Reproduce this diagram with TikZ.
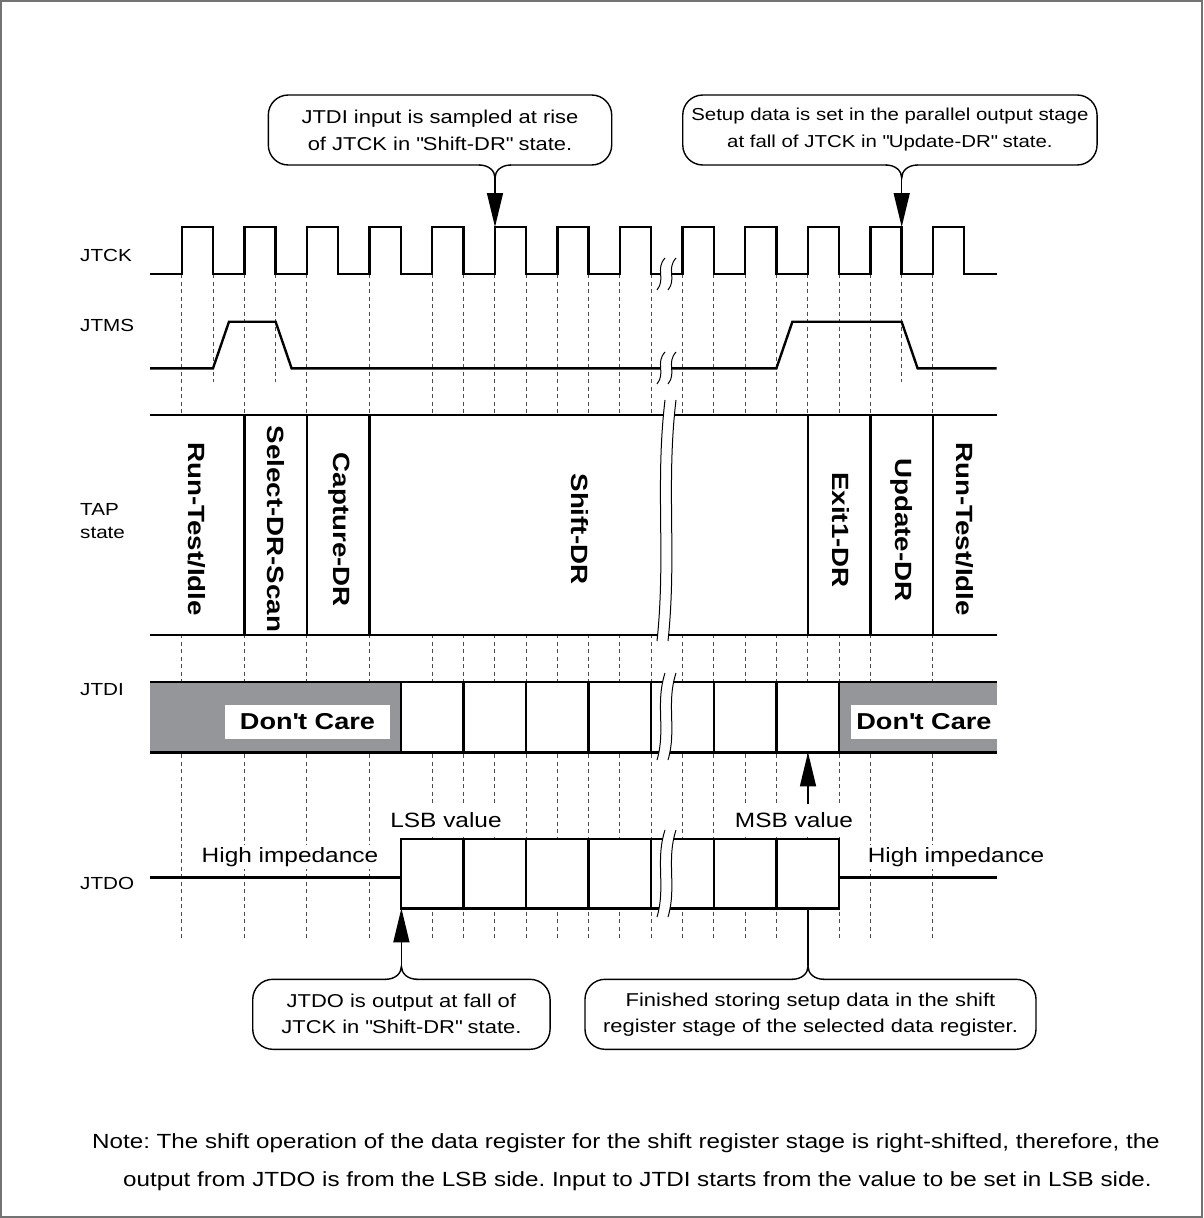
\documentclass[tikz,border=0pt]{standalone}
\usepackage{fontspec}
\setmainfont{Liberation Sans}[FakeStretch=1.18]
\usetikzlibrary{arrows.meta}
\definecolor{dcgray}{RGB}{148,150,153}
\frenchspacing
\newcommand{\edgex}[1]{181.7+31.3*(#1)}
\newcommand{\brkmark}[3]{%
\fill[white] ({#1+4},#2) .. controls ({#1-6},{#2+0.35*(#3-#2)}) and ({#1+5},{#2+0.65*(#3-#2)}) .. ({#1-4},#3)
 -- ({#1+7},#3) .. controls ({#1+16},{#2+0.65*(#3-#2)}) and ({#1+5},{#2+0.35*(#3-#2)}) .. ({#1+15},#2) -- cycle;
\draw[brk] ({#1+4},#2) .. controls ({#1-6},{#2+0.35*(#3-#2)}) and ({#1+5},{#2+0.65*(#3-#2)}) .. ({#1-4},#3);
\draw[brk] ({#1+15},#2) .. controls ({#1+5},{#2+0.35*(#3-#2)}) and ({#1+16},{#2+0.65*(#3-#2)}) .. ({#1+7},#3);}
\newcommand{\notch}[3]{%
\fill[white] ({#1-15},{#2-2}) rectangle ({#1+15},{#2+2});
\draw[line width=1.4pt] ({#1-16},#2) .. controls ({#1-6},#2) and (#1,{#2+6*#3}) .. (#1,{#2+13*#3})
 .. controls (#1,{#2+6*#3}) and ({#1+6},#2) .. ({#1+16},#2);}
\begin{document}
\begin{tikzpicture}[x=1pt,y=-1pt,
wave/.style={line width=2.4pt,line join=miter},
grid/.style={black!70,line width=0.9pt,dash pattern=on 4pt off 3.5pt},
cell/.style={line width=2.4pt},
brk/.style={line width=1pt},
balloon/.style={draw,rounded corners=20pt,line width=1.4pt,align=center,inner sep=0pt,
font=\fontsize{18.6}{27}\selectfont},
lbl/.style={fill=white,inner sep=2pt,font=\fontsize{20.7}{24}\selectfont},
sig/.style={anchor=west,align=left,inner sep=0pt,font=\fontsize{17.5}{23}\selectfont},
tapstate/.style={rotate=-90,inner sep=0pt,font=\fontsize{23.5}{26}\selectfont\bfseries},
dontcare/.style={fill=white,inner sep=0pt,minimum height=34pt,font=\fontsize{23}{26}\selectfont\bfseries},
pin/.style={line width=1.4pt,-{Triangle[length=34pt,width=16pt]}},
notetext/.style={anchor=base west,inner sep=0pt,font=\fontsize{20.5}{24}\selectfont}]
\useasboundingbox (0,0) rectangle (1203,1218);
\draw[black!55,line width=1.5pt] (1,1) rectangle (1202,1217);
\foreach \k in {0,2,...,24} \draw[grid] ({\edgex{\k}},274) -- ({\edgex{\k}},940);
\foreach \k in {9,11,...,21} \draw[grid] ({\edgex{\k}},274) -- ({\edgex{\k}},940);
\foreach \k in {1,3,23} \draw[grid] ({\edgex{\k}},274) -- ({\edgex{\k}},382);
\draw[wave] (150,274) \foreach \k in {0,2,...,24} { -- ({\edgex{\k}},274) -- ({\edgex{\k}},227)
 -- ({\edgex{\k+1}},227) -- ({\edgex{\k+1}},274) } -- (996.7,274);
\draw[wave] (150,368.3) -- ({\edgex{1}},368.3) -- ({\edgex{1}+16},321.7) -- ({\edgex{3}},321.7)
 -- ({\edgex{3}+16},368.3) -- ({\edgex{19}},368.3) -- ({\edgex{19}+16},321.7) -- ({\edgex{23}},321.7)
 -- ({\edgex{23}+16},368.3) -- (996.7,368.3);
\fill[white] (150,415) rectangle (996.7,635);
\draw[cell] (150,415) -- (996.7,415) (150,635) -- (996.7,635);
\foreach \k in {2,4,6,20,22,24} \draw[cell] ({\edgex{\k}},415) -- ({\edgex{\k}},635);
\node[tapstate] (run1) at (197,529) {Run-Test/Idle};
\node[tapstate] (select) at (276,529) {Select-DR-Scan};
\node[tapstate] (capture) at (339,530) {Capture-DR};
\node[tapstate] (shift) at (580,529) {Shift-DR};
\node[tapstate] (exit1) at (841,530) {Exit1-DR};
\node[tapstate] (update) at (902,530) {Update-DR};
\node[tapstate] (run2) at (965,529) {Run-Test/Idle};
\fill[dcgray] (150,682) rectangle ({\edgex{7}},752.3);
\fill[white] ({\edgex{7}},682) rectangle ({\edgex{21}},752.3);
\fill[dcgray] ({\edgex{21}},682) rectangle (996.7,752.3);
\draw[cell] (150,682) -- (996.7,682) (150,752.3) -- (996.7,752.3);
\foreach \k in {7,9,...,21} \draw[cell] ({\edgex{\k}},682) -- ({\edgex{\k}},752.3);
\node[dontcare,minimum width=165pt] (care1) at (307.5,722) {Don\textquotesingle t Care};
\node[dontcare,inner xsep=5pt,anchor=east] (care2) at (996.7,722) {Don\textquotesingle t Care};
\draw[cell] (150,877.3) -- ({\edgex{7}},877.3);
\fill[white] ({\edgex{7}},839) rectangle ({\edgex{21}},908.3);
\draw[cell] ({\edgex{7}},839) rectangle ({\edgex{21}},908.3);
\foreach \k in {9,11,...,19} \draw[cell] ({\edgex{\k}},839) -- ({\edgex{\k}},908.3);
\draw[cell] ({\edgex{21}},877.3) -- (996.7,877.3);
\node[lbl,minimum height=31pt] (lsb) at (446,820) {LSB value};
\node[lbl,minimum height=31pt] (msb) at (794,820) {MSB value};
\node[lbl] (hiz1) at (290,857) {High impedance};
\node[lbl] (hiz2) at (956,857) {High impedance};
\brkmark{661}{258}{290}
\brkmark{661}{352}{384}
\brkmark{661}{400}{641}
\brkmark{661}{673}{760}
\brkmark{661}{830}{917}
\node[sig] (tck) at (80,255) {JTCK};
\node[sig] (tms) at (80,325) {JTMS};
\node[sig] (tap) at (80,521) {TAP\\state};
\node[sig] (tdi) at (80,690) {JTDI};
\node[sig] (tdo) at (80,883) {JTDO};
\node[balloon,minimum width=343.4pt,minimum height=70pt] (sample) at (440,130)
{JTDI input is sampled at rise\\of JTCK in \textquotedbl Shift-DR\textquotedbl{} state.};
\node[balloon,minimum width=414.3pt,minimum height=70pt,font=\fontsize{17.3}{27}\selectfont] (setup) at (889.9,130)
{Setup data is set in the parallel output stage\\at fall of JTCK in \textquotedbl Update-DR\textquotedbl{} state.};
\node[balloon,minimum width=297.3pt,minimum height=70pt,font=\fontsize{18.6}{26}\selectfont] (outfall) at (401.4,1014.3)
{JTDO is output at fall of\\JTCK in \textquotedbl Shift-DR\textquotedbl{} state.};
\node[balloon,minimum width=451pt,minimum height=70pt,font=\fontsize{18.6}{26}\selectfont] (finished) at (810.5,1014.3)
{Finished storing setup data in the shift\\register stage of the selected data register.};
\notch{495}{165}{1}
\notch{901.7}{165}{1}
\notch{401.4}{979.3}{-1}
\notch{808}{979.3}{-1}
\coordinate (sampletip) at (495,178);
\coordinate (riseshift) at (495,227);
\coordinate (setuptip) at (901.7,178);
\coordinate (fallupdate) at (901.7,227);
\coordinate (outtip) at (401.4,966.3);
\coordinate (tdoout) at (401.4,908.3);
\coordinate (donetip) at (808,966.3);
\coordinate (msbdone) at (808,908.3);
\coordinate (msbin) at (808,752.3);
\draw[pin] (sampletip) -- (riseshift);
\draw[pin] (setuptip) -- (fallupdate);
\draw[pin] (outtip) -- (tdoout);
\draw[line width=1.4pt] (donetip) -- (msbdone);
\draw[pin] (msb.north -| msbin) -- (msbin);
\node[notetext] (note1) at (92,1148.7)
{Note: The shift operation of the data register for the shift register stage is right-shifted, therefore, the};
\node[notetext] (note2) at (123,1186.7)
{output from JTDO is from the LSB side. Input to JTDI starts from the value to be set in LSB side.};
\end{tikzpicture}
\end{document}
